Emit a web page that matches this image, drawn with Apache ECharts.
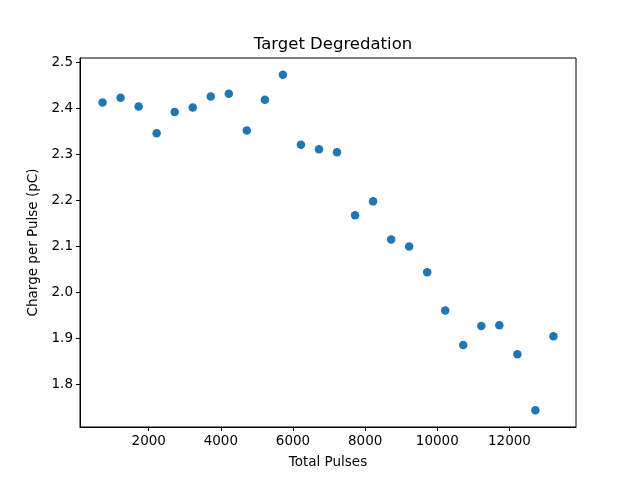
<!DOCTYPE html>
<html>
<head>
<meta charset="utf-8">
<script src="https://cdn.jsdelivr.net/npm/echarts@6/dist/echarts.min.js"></script>
<style>
  html, body { margin: 0; padding: 0; background: #fff; }
  #chart { width: 640px; height: 480px; }
</style>
</head>
<body>
<div id="chart"></div>
<script>
// total pulses at each measurement
var pulses = [720, 1220, 1720, 2220, 2720, 3220, 3720, 4220, 4720, 5220, 5720, 6220, 6720,
  7220, 7720, 8220, 8720, 9220, 9720, 10220, 10720, 11220, 11720, 12220, 12720, 13220]
// charge per pulse (pC)
var charge = [2.413, 2.423, 2.404, 2.346, 2.392, 2.402, 2.426, 2.432, 2.352, 2.419, 2.473, 2.321, 2.311,
  2.305, 2.168, 2.198, 2.115, 2.100, 2.044, 1.961, 1.886, 1.927, 1.929, 1.866, 1.744, 1.905]
var xTicks = [2000, 4000, 6000, 8000, 10000, 12000]
var yTicks = [1.8, 1.9, 2.0, 2.1, 2.2, 2.3, 2.4, 2.5]

var font = 'DejaVu Sans'
var points = pulses.map(function (p, i) { return [p, charge[i]] })

var myChart = echarts.init(document.getElementById('chart'), null, { renderer: 'canvas' })
var option = {
  animation: false,
  backgroundColor: '#fff',
  title: {
    text: 'Target Degredation',
    left: 328,
    top: 31,
    textAlign: 'center',
    textStyle: { fontFamily: font, fontSize: 16.5, fontWeight: 'normal', color: '#000' },
  },
  grid: {
    left: 80, right: 64, top: 58, bottom: 53,
    show: true, borderColor: '#000', borderWidth: 1,
  },
  xAxis: {
    type: 'value',
    min: 95,
    max: 13845,
    name: 'Total Pulses',
    nameLocation: 'middle',
    nameGap: 28,
    nameTextStyle: { fontFamily: font, fontSize: 13.5, color: '#000' },
    splitLine: { show: false },
    axisLine: { show: true, lineStyle: { color: '#000', width: 1 } },
    axisTick: { show: true, inside: false, length: 4, customValues: xTicks, lineStyle: { color: '#000' } },
    axisLabel: {
      customValues: xTicks, margin: 7, fontFamily: font, fontSize: 13.5, color: '#000',
      formatter: function (v) { return String(v) },
    },
  },
  yAxis: {
    type: 'value',
    min: 1.7078,
    max: 2.5095,
    name: 'Charge per Pulse (pC)',
    nameLocation: 'middle',
    nameGap: 37,
    nameTextStyle: { fontFamily: font, fontSize: 13.5, color: '#000' },
    splitLine: { show: false },
    axisLine: { show: true, lineStyle: { color: '#000', width: 1 } },
    axisTick: { show: true, inside: false, length: 4, customValues: yTicks, lineStyle: { color: '#000' } },
    axisLabel: {
      customValues: yTicks, margin: 7, fontFamily: font, fontSize: 13.5, color: '#000',
      formatter: function (v) { return v.toFixed(1) },
    },
  },
  series: [
    {
      type: 'scatter',
      data: points,
      symbol: 'circle',
      symbolSize: 8.5,
      itemStyle: { color: '#1f77b4', opacity: 1 },
    },
  ],
}
myChart.setOption(option)
</script>
</body>
</html>
